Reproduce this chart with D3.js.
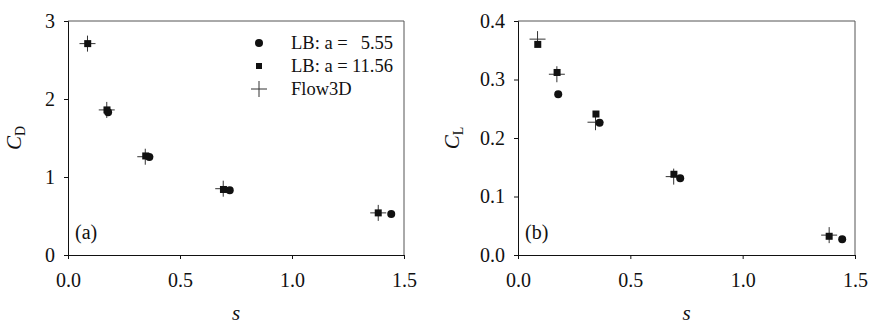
<!DOCTYPE html>
<html>
<head>
<meta charset="utf-8">
<script src="https://cdn.jsdelivr.net/npm/d3@7"></script>
<style>
  html, body { margin: 0; padding: 0; background: #fff; }
  svg { display: block; }
  text { font-family: "Liberation Serif", "Times New Roman", serif; fill: #111; }
</style>
</head>
<body>
<svg id="chart" width="869" height="324"></svg>
<script>
// ---- data ----
const sLB1 = [0.179, 0.363, 0.722, 1.443];          // LB: a = 5.55 (circles)
const sLB2 = [0.088, 0.174, 0.347, 0.694, 1.385];   // LB: a = 11.56 (squares)
const sFlow = [0.087, 0.173, 0.345, 0.693, 1.385];  // Flow3D (crosses)

const cdLB1 = [1.83, 1.255, 0.83, 0.525];
const cdLB2 = [2.71, 1.86, 1.27, 0.84, 0.54];
const cdFlow = [2.71, 1.86, 1.26, 0.85, 0.54];

const clLB1 = [0.275, 0.226, 0.131, 0.027];
const clLB2 = [0.360, 0.312, 0.241, 0.138, 0.032];
const clFlow = [0.369, 0.309, 0.227, 0.134, 0.034];

const xTicks = [0.0, 0.5, 1.0, 1.5];
const cdTicks = [0, 1, 2, 3];
const clTicks = [0.0, 0.1, 0.2, 0.3, 0.4];
const legendLabels = ["LB: a =", "LB: a =", "Flow3D"];
const legendValues = ["5.55", "11.56", ""];

const svg = d3.select("#chart");

function panel(opts) {
  const g = svg.append("g");
  const x = d3.scaleLinear().domain([0, 1.5]).range([opts.left, opts.right]);
  const y = d3.scaleLinear().domain(opts.yDomain).range([opts.bottom, opts.top]);

  // frame (top and right)
  g.append("path")
    .attr("d", `M${opts.left},${opts.top}H${opts.right}V${opts.bottom}`)
    .attr("fill", "none").attr("stroke", "#555").attr("stroke-width", 1);

  const xa = g.append("g").attr("transform", `translate(0,${opts.bottom})`)
    .call(d3.axisBottom(x).tickValues(xTicks).tickFormat(d3.format(".1f")).tickSize(4).tickPadding(13.5));
  const ya = g.append("g").attr("transform", `translate(${opts.left},0)`)
    .call(d3.axisLeft(y).tickValues(opts.yTicks).tickFormat(opts.yFormat).tickSize(4).tickPadding(9));
  [xa, ya].forEach(a => {
    a.select(".domain").attr("stroke", "#111");
    a.selectAll(".tick line").attr("stroke", "#111");
    a.selectAll(".tick text").attr("font-size", 20).attr("fill", "#111")
      .attr("font-family", "Liberation Serif, serif");
  });

  // crosses (Flow3D)
  const arm = 8;
  const cross = g.append("g").attr("stroke", "#333").attr("stroke-width", 1);
  opts.flow.forEach((v, i) => {
    const cx = x(sFlow[i]), cy = y(v);
    cross.append("line").attr("x1", cx - arm).attr("x2", cx + arm).attr("y1", cy).attr("y2", cy);
    cross.append("line").attr("x1", cx).attr("x2", cx).attr("y1", cy - arm).attr("y2", cy + arm);
  });
  // squares (a = 11.56)
  g.append("g").selectAll("rect").data(opts.lb2).join("rect")
    .attr("x", (d, i) => x(sLB2[i]) - 3.5).attr("y", d => y(d) - 3.5)
    .attr("width", 7).attr("height", 7).attr("fill", "#111");
  // circles (a = 5.55)
  g.append("g").selectAll("circle").data(opts.lb1).join("circle")
    .attr("cx", (d, i) => x(sLB1[i])).attr("cy", d => y(d)).attr("r", 4)
    .attr("fill", "#111");

  // panel label
  g.append("text").attr("x", opts.left + 7).attr("y", 239).attr("font-size", 20).text(opts.tag);

  // x title
  g.append("text").attr("x", (opts.left + opts.right) / 2).attr("y", 320)
    .attr("text-anchor", "middle").attr("font-size", 21).attr("font-style", "italic").text("s");

  // y title
  const yt = g.append("text").attr("transform", `translate(${opts.titleX},138) rotate(-90)`)
    .attr("text-anchor", "middle").attr("font-size", 21);
  yt.append("tspan").attr("font-style", "italic").text("C");
  yt.append("tspan").attr("font-size", 14).attr("dy", 4).text(opts.sub);

  return { g, x, y };
}

panel({
  left: 68, right: 404, top: 21, bottom: 255,
  yDomain: [0, 3], yTicks: cdTicks, yFormat: d3.format("d"),
  lb1: cdLB1, lb2: cdLB2, flow: cdFlow, tag: "(a)", titleX: 21, sub: "D"
});
panel({
  left: 518, right: 855, top: 21, bottom: 255,
  yDomain: [0, 0.4], yTicks: clTicks, yFormat: d3.format(".1f"),
  lb1: clLB1, lb2: clLB2, flow: clFlow, tag: "(b)", titleX: 459, sub: "L"
});

// legend (panel a)
const lg = svg.append("g");
const rows = [43, 66, 89];
lg.append("circle").attr("cx", 259).attr("cy", rows[0]).attr("r", 4).attr("fill", "#111");
lg.append("rect").attr("x", 256).attr("y", rows[1] - 3).attr("width", 6).attr("height", 6).attr("fill", "#111");
lg.append("line").attr("x1", 251).attr("x2", 267).attr("y1", rows[2]).attr("y2", rows[2]).attr("stroke", "#333");
lg.append("line").attr("x1", 259).attr("x2", 259).attr("y1", rows[2] - 8).attr("y2", rows[2] + 8).attr("stroke", "#333");
legendLabels.forEach((t, i) => {
  lg.append("text").attr("x", 291).attr("y", rows[i] + 6).attr("font-size", 18.5).text(t);
  if (legendValues[i]) {
    lg.append("text").attr("x", 393).attr("y", rows[i] + 6).attr("font-size", 18.5)
      .attr("text-anchor", "end").text(legendValues[i]);
  }
});
</script>
</body>
</html>
